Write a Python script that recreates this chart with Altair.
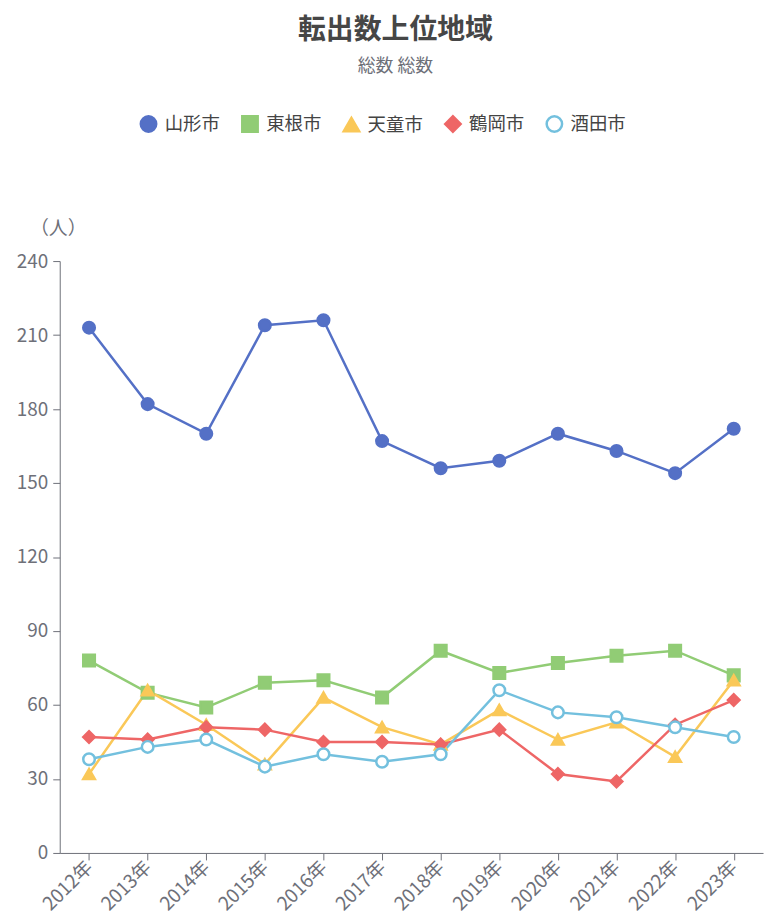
import altair as alt
import pandas as pd

years = ["2012年", "2013年", "2014年", "2015年", "2016年", "2017年",
         "2018年", "2019年", "2020年", "2021年", "2022年", "2023年"]
cities = ["山形市", "東根市", "天童市", "鶴岡市", "酒田市"]
yamagata = [213, 182, 170, 214, 216, 167, 156, 159, 170, 163, 154, 172]
higashine = [78, 65, 59, 69, 70, 63, 82, 73, 77, 80, 82, 72]
tendo = [32, 66, 52, 36, 63, 51, 44, 58, 46, 53, 39, 70]
tsuruoka = [47, 46, 51, 50, 45, 45, 44, 50, 32, 29, 52, 62]
sakata = [38, 43, 46, 35, 40, 37, 40, 66, 57, 55, 51, 47]

colors = ["#5470c6", "#91cc75", "#fac858", "#ee6666", "#73c0de"]
fills = ["#5470c6", "#91cc75", "#fac858", "#ee6666", "#ffffff"]
shapes = ["circle", "square", "triangle-up", "diamond", "circle"]

series = [yamagata, higashine, tendo, tsuruoka, sakata]
rows = []
for c, vals in zip(cities, series):
    for y, v in zip(years, vals):
        rows.append({"year": y, "city": c, "value": v})
df = pd.DataFrame(rows)

FONT = "Noto Sans CJK JP"
AXC = "#6e7079"

x = alt.X("year:N", sort=years, title=None,
          scale=alt.Scale(type="point", padding=0.5),
          axis=alt.Axis(labelAngle=-45, labelAlign="right", labelBaseline="middle",
                        labelFontSize=19, labelColor=AXC, labelPadding=4,
                        domainColor=AXC, tickColor=AXC, tickSize=7,
                        grid=False, labelFont=FONT))
y = alt.Y("value:Q", title="（人）",
          scale=alt.Scale(domain=[0, 240], nice=False),
          axis=alt.Axis(values=[0, 30, 60, 90, 120, 150, 180, 210, 240],
                        labelFontSize=19, labelColor=AXC, labelPadding=5,
                        domainColor=AXC, tickColor=AXC, tickSize=7,
                        grid=False, labelFont=FONT,
                        titleAngle=0, titleX=-2, titleY=-33, titleAlign="center",
                        titleBaseline="middle", titleFontSize=19, titleFontWeight="normal",
                        titleColor=AXC, titleFont=FONT))

stroke_scale = alt.Scale(domain=cities, range=colors)

legend = alt.Legend(title=None, orient="none", direction="horizontal",
                    legendX=80, legendY=-147, labelFontSize=18.5, labelColor="#444444",
                    labelFont=FONT, symbolSize=240, symbolStrokeWidth=2.5,
                    columnPadding=16, labelOffset=7)

lines = alt.Chart(df).mark_line(strokeWidth=2.5).encode(
    x=x, y=y,
    stroke=alt.Stroke("city:N", scale=stroke_scale, legend=legend),
    detail="city:N",
)

points = alt.Chart(df).mark_point(filled=False, opacity=1, strokeWidth=2.5).encode(
    x=x, y=y,
    stroke=alt.Stroke("city:N", scale=stroke_scale, legend=legend),
    fill=alt.Fill("city:N", scale=alt.Scale(domain=cities, range=fills), legend=legend),
    shape=alt.Shape("city:N", scale=alt.Scale(domain=cities, range=shapes), legend=legend),
    size=alt.value(135),
)

chart = alt.layer(lines, points).properties(
    width=707, height=595,
    autosize=alt.AutoSizeParams(type="none"),
    padding={"left": 52, "top": 252, "right": 5, "bottom": 64},
    title=alt.TitleParams(
        text="転出数上位地域", subtitle="総数 総数",
        anchor="middle", dx=-16, offset=39,
        fontSize=28, fontWeight="bold", color="#464646", font=FONT,
        subtitleFontSize=18, subtitleColor=AXC, subtitleFont=FONT,
        subtitlePadding=13,
    ),
).configure_view(stroke=None)

chart.save("out.html", embed_options={"renderer": "svg", "actions": False})
